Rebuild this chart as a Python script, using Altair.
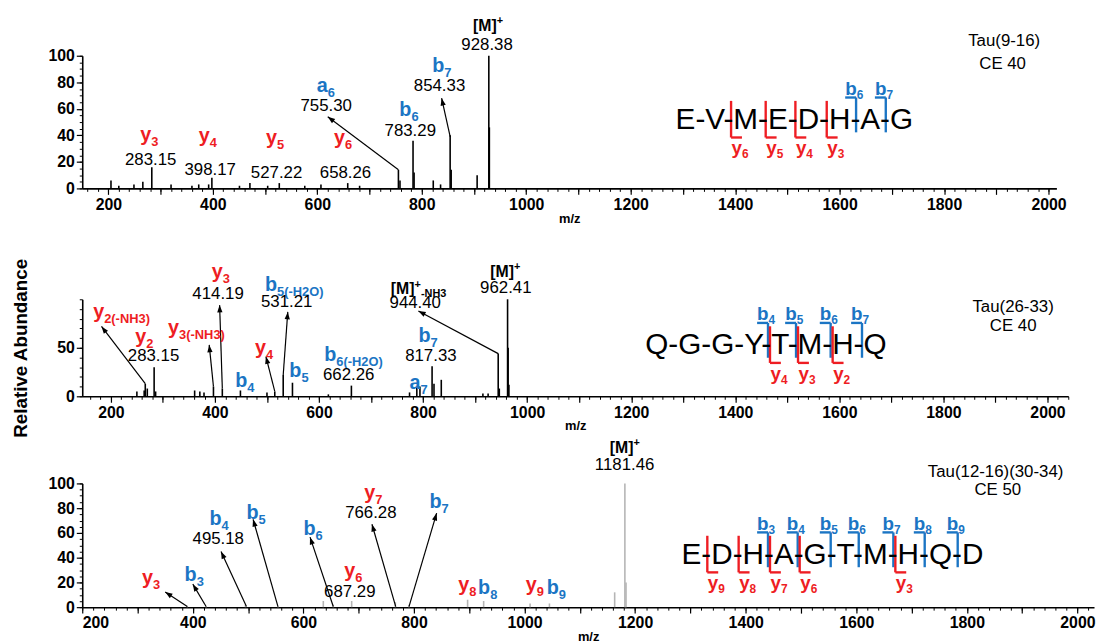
import math
import altair as alt
import pandas as pd

FONT = "Liberation Sans"
RED = "#ee1d23"
BLUE = "#1b75c4"
INK = "#000000"
PALE = "#b5b5b5"

# ================= Panel 1 : Tau(9-16), CE 40 =================
p1_peak_mz = [205, 220, 249, 266, 283.15, 320, 360, 373, 392, 398.17, 451, 471, 505, 527.22,
              576, 607, 658.26, 681, 755.30, 758.3, 783.29, 785.3, 822, 836, 854.33, 856.3,
              906, 928.38, 929.4]
p1_peak_int = [6, 2, 3, 5, 16, 3, 2, 3, 3, 8, 2, 4, 2, 4,
               2, 3, 4, 2, 14, 6, 36, 12, 6, 3, 40, 14,
               10, 100, 46]
p1_ion_letter = ["y", "y", "y", "y", "a", "b", "b"]
p1_ion_sub = ["3", "4", "5", "6", "6", "6", "7"]
p1_ion_series = ["y", "y", "y", "y", "b", "b", "b"]
p1_ion_mz = [261, 373, 502, 632, 599, 757, 820]
p1_ion_int = [35.7, 35, 33.7, 33.7, 72.5, 54.5, 88]
p1_num_text = ["283.15", "398.17", "527.22", "658.26", "755.30", "783.29", "854.33", "928.38"]
p1_num_mz = [281, 395, 522, 654, 617, 778, 834, 925]
p1_num_int = [18, 10.4, 7.8, 7.8, 58.5, 39.6, 73.3, 104.4]
p1_prec_sub = [""]
p1_prec_mz = [898]
p1_prec_int = [118.6]
p1_arrow_from_mz = [755.30, 854.33]
p1_arrow_from_int = [14, 39]
p1_arrow_to_mz = [620, 838]
p1_arrow_to_int = [54, 68]
p1_info_text = ["Tau(9-16)", "CE 40"]
p1_info_mz = [1915, 1912]
p1_info_int = [107, 90]
p1_seq = "E-V-M-E-D-H-A-G"
p1_seq_mz = 1286
p1_seq_int = 44.8
p1_b_ions = [6, 7]
p1_y_ions = [6, 5, 4, 3]

# ================= Panel 2 : Tau(26-33), CE 40 =================
p2_peak_mz = [250, 264, 266.12, 270, 283.15, 286, 361, 371, 379, 397.16, 414.19, 449, 500, 515,
              531.21, 549, 618, 662.26, 774, 788, 794, 817.33, 821, 835, 915, 925, 944.40,
              946.5, 962.41, 963.5, 965]
p2_peak_int = [5, 6, 13, 8, 30, 5, 6, 5, 4, 10, 8, 6, 4, 5,
               22, 14, 2, 11, 4, 9, 10, 31, 13, 17, 3, 3, 44,
               8, 100, 50, 12]
p2_ion_letter = ["y", "y", "y", "y", "y", "b", "b", "b", "b", "b", "a"]
p2_ion_sub = ["2(-NH3)", "2", "3(-NH3)", "3", "4", "4", "5", "5(-H2O)", "6(-H2O)", "7", "7"]
p2_ion_series = ["y", "y", "y", "y", "y", "b", "b", "b", "b", "b", "b"]
p2_ion_mz = [166, 247, 310, 394, 477, 439, 543, 496, 610, 791, 774]
p2_ion_int = [81, 55, 64, 121.6, 44, 9.5, 19.6, 109, 36.5, 56, 7.8]
p2_num_text = ["283.15", "414.19", "531.21", "662.26", "817.33", "944.40", "962.41"]
p2_num_mz = [282, 406, 538, 657, 815, 785, 959]
p2_num_int = [36.5, 100.7, 92, 17, 36.5, 91.5, 106.8]
p2_prec_sub = ["", "-NH3"]
p2_prec_mz = [929, 738]
p2_prec_int = [122.6, 105]
p2_arrow_from_mz = [266.12, 397.16, 414.19, 515, 531.21, 944.40]
p2_arrow_from_int = [13, 10, 8, 5, 22, 44]
p2_arrow_to_mz = [182, 389, 409, 498, 540, 791]
p2_arrow_to_int = [72, 53, 94, 41, 87, 88]
p2_info_text = ["Tau(26-33)", "CE 40"]
p2_info_mz = [1934, 1934]
p2_info_int = [87, 67]
p2_seq = "Q-G-G-Y-T-M-H-Q"
p2_seq_mz = 1227
p2_seq_int = 43.2
p2_b_ions = [4, 5, 6, 7]
p2_y_ions = [4, 3, 2]

# ================= Panel 3 : Tau(12-16)(30-34), CE 50 =================
p3_peak_mz = [390, 424, 495.18, 554, 636, 654, 687.29, 766.28, 791, 897, 926, 1010, 1045,
              1163, 1181.46, 1183.5]
p3_peak_int = [1, 1, 2, 1, 5, 2, 5, 4, 2, 6, 5, 3, 3,
               12, 100, 20]
p3_ion_letter = ["y", "b", "b", "b", "b", "y", "y", "b", "y", "b", "y", "b"]
p3_ion_sub = ["3", "3", "4", "5", "6", "6", "7", "7", "8", "8", "9", "9"]
p3_ion_series = ["y", "b", "b", "b", "b", "y", "y", "b", "y", "b", "y", "b"]
p3_ion_mz = [308, 385, 430, 497, 600, 674, 710, 828, 880, 916, 1002, 1040]
p3_ion_int = [19, 21, 66.6, 71.4, 58, 24.6, 87.4, 80, 13, 10.9, 13, 10.9]
p3_num_text = ["495.18", "687.29", "766.28", "1181.46"]
p3_num_mz = [446, 684, 722, 1181]
p3_num_int = [50.9, 8.6, 71.7, 110.9]
p3_prec_sub = [""]
p3_prec_mz = [1154]
p3_prec_int = [124.6]
p3_arrow_from_mz = [390, 424, 497, 554, 654, 767, 791]
p3_arrow_from_int = [0.5, 0.5, 0.5, 0.5, 0.5, 0.5, 0.5]
p3_arrow_to_mz = [350, 400, 451, 509, 612, 724, 841]
p3_arrow_to_int = [12.3, 18.6, 45, 71, 56.6, 67, 76]
p3_info_text = ["Tau(12-16)(30-34)", "CE 50"]
p3_info_mz = [1852, 1856]
p3_info_int = [105, 91]
p3_seq = "E-D-H-A-G-T-M-H-Q-D"
p3_seq_mz = 1284
p3_seq_int = 35
p3_b_ions = [3, 4, 5, 6, 7, 8, 9]
p3_y_ions = [9, 8, 7, 6, 3]

# ---------------- layout (sizes / styles) ----------------
PANEL_CFG = [
    dict(lo=150, hi=2015, w=984, h=134, top=0),
    dict(lo=145, hi=2040, w=996, h=98, top=24),
    dict(lo=200, hi=2030, w=1022, h=125, top=0),
]

# Arial / Liberation Sans advance widths (em)
BOLD_W = {"a": .556, "b": .611, "y": .556, "[": .333, "M": .833, "]": .333, "+": .584}
REG_W = {"A": .667, "D": .722, "E": .667, "G": .778, "H": .722, "M": .833, "Q": .778,
         "T": .611, "V": .667, "Y": .667, "-": .333}


def dash_centers(seq, fs):
    pos, out = 0.0, []
    for ch in seq:
        wch = REG_W[ch] * fs
        if ch == "-":
            out.append(pos + wch / 2)
        pos += wch
    return out


def build_panel(cfg, d, peak_color, ymajor, yminor, ytitle):
    lo, hi, w, h, top = cfg["lo"], cfg["hi"], cfg["w"], cfg["h"], cfg["top"]
    kx = w / (hi - lo)
    ky = h / 100.0
    xs = alt.Scale(domain=[lo, hi], nice=False, zero=False)
    ys = alt.Scale(domain=[0, 100], nice=False, zero=False, range=[h + top, top])

    def X(f="mz"):
        return alt.X(f"{f}:Q", scale=xs, axis=None)

    def Y(f="inten"):
        return alt.Y(f"{f}:Q", scale=ys, axis=None)

    # ---- text rows ----
    bold, regc, regl = [], [], []
    for letter, sub, ser, mz, it in zip(d["ion_letter"], d["ion_sub"], d["ion_series"],
                                         d["ion_mz"], d["ion_int"]):
        col = RED if ser == "y" else BLUE
        bold.append(dict(mz=mz, inten=it, text=letter, fs=20, col=col))
        bold.append(dict(mz=mz + BOLD_W[letter] * 20 / kx, inten=it - 5 / ky, text=sub, fs=13, col=col))
    for sub, mz, it in zip(d["prec_sub"], d["prec_mz"], d["prec_int"]):
        bold.append(dict(mz=mz, inten=it, text="[M]", fs=16, col=INK))
        dx = 1.499 * 16
        bold.append(dict(mz=mz + dx / kx, inten=it + 7 / ky, text="+", fs=11, col=INK))
        if sub:
            bold.append(dict(mz=mz + (dx + 0.584 * 11) / kx, inten=it - 3 / ky, text=sub, fs=11, col=INK))
    for t, mz, it in zip(d["num_text"], d["num_mz"], d["num_int"]):
        regc.append(dict(mz=mz, inten=it, text=t, fs=17, col=INK))
    for t, mz, it in zip(d["info_text"], d["info_mz"], d["info_int"]):
        regc.append(dict(mz=mz, inten=it, text=t, fs=17, col=INK))

    # ---- sequence with fragmentation brackets ----
    seq, smz, sint = d["seq"], d["seq_mz"], d["seq_int"]
    fs = 30
    regl.append(dict(mz=smz, inten=sint, text=seq, fs=fs, col=INK))
    cap = 0.716 * fs
    dc = dash_centers(seq, fs)
    nres = len(seq.split("-"))
    brk = []
    arm = 11
    for n in d["b_ions"]:
        vx = smz + (dc[n - 1] - 1) / kx
        t_ = sint + (cap + 10.3) / ky
        b_ = sint - 3.4 / ky
        brk.append(dict(mz=vx, inten=b_, mz2=vx, inten2=t_, col=BLUE))
        brk.append(dict(mz=vx - arm / kx, inten=t_, mz2=vx, inten2=t_, col=BLUE))
        lx = vx - arm / kx
        bold.append(dict(mz=lx, inten=t_ + 2.5 / ky, text="b", fs=19, col=BLUE))
        bold.append(dict(mz=lx + 0.611 * 19 / kx, inten=t_ + 2.5 / ky - 4 / ky, text=str(n), fs=12, col=BLUE))
    for k in d["y_ions"]:
        vx = smz + (dc[nres - k - 1] + 1) / kx
        t_ = sint + (cap + 6.9) / ky
        b_ = sint - 8.6 / ky
        brk.append(dict(mz=vx, inten=b_, mz2=vx, inten2=t_, col=RED))
        brk.append(dict(mz=vx, inten=b_, mz2=vx + arm / kx, inten2=b_, col=RED))
        ly = b_ - 17 / ky
        bold.append(dict(mz=vx + 0.5 / kx, inten=ly, text="y", fs=19, col=RED))
        bold.append(dict(mz=vx + 0.5 / kx + 0.556 * 19 / kx, inten=ly - 4 / ky, text=str(k), fs=12, col=RED))

    # ---- arrows ----
    arr, heads = [], []
    for fm, fi, tm, ti in zip(d["arrow_from_mz"], d["arrow_from_int"], d["arrow_to_mz"], d["arrow_to_int"]):
        dxp = (tm - fm) * kx
        dyp = (ti - fi) * ky
        ang = math.degrees(math.atan2(dxp, dyp)) % 360
        arr.append(dict(mz=fm, inten=fi, mz2=tm, inten2=ti))
        heads.append(dict(mz=tm, inten=ti, ang=ang))

    peaks = pd.DataFrame({"mz": d["peak_mz"], "inten": d["peak_int"]})
    peaks["base"] = 0.0

    xmaj = [v for v in range(100, 2001, 100) if lo <= v <= hi]
    xmin = [v for v in range(100, 2041, 20) if lo <= v <= hi]

    common = dict(labelFont=FONT, labelFontWeight="bold", labelFontSize=16, labelColor=INK,
                  domainColor=INK, tickColor=INK, domainWidth=1.6, tickWidth=1.2, grid=False,
                  titleFont=FONT, titleFontWeight="bold", titleColor=INK)
    xaxis = alt.Axis(orient="bottom", values=xmaj, tickSize=6, labelPadding=2,
                     labelExpr="datum.value % 200 === 0 ? format(datum.value, 'd') : ''",
                     labelOverlap=False, title="m/z", titleFontSize=13, titlePadding=0, **common)
    if ytitle:
        yaxis = alt.Axis(orient="left", values=ymajor, tickSize=6, labelPadding=2, format="d",
                         labelOverlap=False, title=ytitle, titleFontSize=19, titleAngle=270,
                         titleX=-62, titleY=top + h / 2, titleAlign="center", titleBaseline="middle",
                         **common)
    else:
        yaxis = alt.Axis(orient="left", values=ymajor, tickSize=6, labelPadding=2, format="d",
                         labelOverlap=False, title=None, **common)
    xminax = alt.Axis(orient="bottom", values=xmin, tickSize=3, labels=False, domain=False,
                      title=None, tickColor=INK, tickWidth=1, grid=False)
    yminax = alt.Axis(orient="left", values=yminor, tickSize=3, labels=False, domain=False,
                      title=None, tickColor=INK, tickWidth=1, grid=False)

    layers = []
    layers.append(alt.Chart(peaks).mark_point(opacity=0).encode(
        x=alt.X("mz:Q", scale=xs, axis=xminax), y=alt.Y("inten:Q", scale=ys, axis=yminax)))
    layers.append(alt.Chart(peaks).mark_rule(color=peak_color, strokeWidth=1.6).encode(
        x=alt.X("mz:Q", scale=xs, axis=xaxis), y=alt.Y("inten:Q", scale=ys, axis=yaxis),
        y2=alt.Y2("base:Q")))
    if arr:
        layers.append(alt.Chart(pd.DataFrame(arr)).mark_rule(color=INK, strokeWidth=1.2).encode(
            x=X(), y=Y(), x2=alt.X2("mz2:Q"), y2=alt.Y2("inten2:Q")))
        layers.append(alt.Chart(pd.DataFrame(heads)).mark_point(
            shape="M0,0L-0.45,1.25L0.45,1.25Z", filled=True, color=INK, opacity=1, size=140,
            strokeWidth=0).encode(x=X(), y=Y(), angle=alt.Angle("ang:Q", scale=None)))
    layers.append(alt.Chart(pd.DataFrame(brk)).mark_rule(strokeWidth=2.4).encode(
        x=X(), y=Y(), x2=alt.X2("mz2:Q"), y2=alt.Y2("inten2:Q"),
        color=alt.Color("col:N", scale=None)))
    for rows, weight, align in [(bold, "bold", "left"), (regc, "normal", "center"), (regl, "normal", "left")]:
        layers.append(alt.Chart(pd.DataFrame(rows)).mark_text(
            font=FONT, fontWeight=weight, align=align, baseline="alphabetic").encode(
            x=X(), y=Y(), text="text:N", size=alt.Size("fs:Q", scale=None),
            color=alt.Color("col:N", scale=None)))

    return alt.layer(*layers).resolve_axis(x="independent", y="independent").properties(
        width=w, height=h + top)


def pack(prefix):
    g = globals()
    keys = ["peak_mz", "peak_int", "ion_letter", "ion_sub", "ion_series", "ion_mz", "ion_int",
            "num_text", "num_mz", "num_int", "prec_sub", "prec_mz", "prec_int",
            "arrow_from_mz", "arrow_from_int", "arrow_to_mz", "arrow_to_int",
            "info_text", "info_mz", "info_int", "seq", "seq_mz", "seq_int", "b_ions", "y_ions"]
    return {k: g[f"{prefix}_{k}"] for k in keys}


c1 = build_panel(PANEL_CFG[0], pack("p1"), INK, [0, 20, 40, 60, 80, 100], list(range(0, 101, 5)), None)
c2 = build_panel(PANEL_CFG[1], pack("p2"), INK, [0, 50], list(range(0, 101, 10)), "Relative Abundance")
c3 = build_panel(PANEL_CFG[2], pack("p3"), PALE, [0, 20, 40, 60, 80, 100], list(range(0, 101, 5)), None)

chart = alt.vconcat(c1, c2, c3, spacing=88, bounds="flush").properties(
    padding={"left": 4, "top": 4, "right": 0, "bottom": 0},
    background="white",
).configure_view(stroke=None)

chart.save("out.html", embed_options={"renderer": "svg", "actions": False})
